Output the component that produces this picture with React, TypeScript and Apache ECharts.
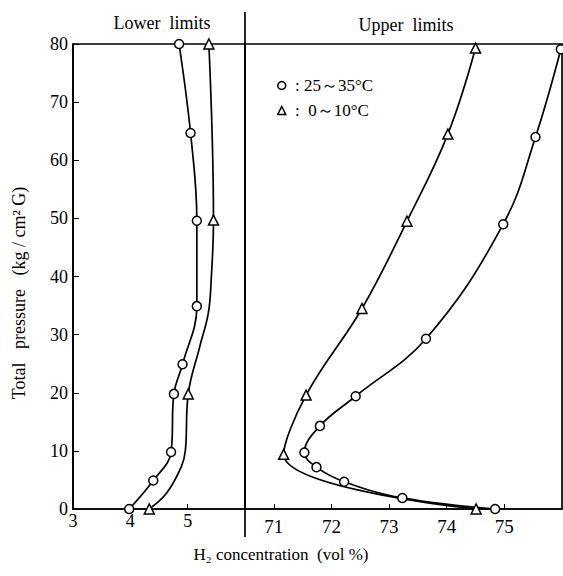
import React, { useEffect, useRef } from "react";
import * as echarts from "echarts";

// measured points (marked)
const lowerWarm: [number, number][] = [
  [3.98, 0], [4.4, 4.9], [4.71, 9.8], [4.76, 19.8], [4.91, 24.9],
  [5.16, 34.9], [5.16, 49.6], [5.05, 64.7], [4.85, 80],
];
const lowerCold: [number, number][] = [
  [4.33, 0], [5.01, 19.8], [5.45, 49.7], [5.37, 80],
];
const lowerColdTrace: [number, number][] = [
  [4.63, 2.7], [4.89, 7.3], [4.96, 10.1], [5.21, 27.9], [5.36, 33.7], [5.41, 39.4],
];
const upperWarm: [number, number][] = [
  [74.84, 0], [73.23, 1.9], [72.22, 4.7], [71.74, 7.2], [71.53, 9.7],
  [71.8, 14.3], [72.42, 19.4], [73.64, 29.3], [74.98, 49], [75.54, 64], [75.98, 79.1],
];
const upperCold: [number, number][] = [
  [74.51, 0], [71.17, 9.4], [71.56, 19.6], [72.53, 34.5], [73.31, 49.5],
  [74.02, 64.5], [74.5, 79.3],
];
const lowerTicks = [3, 4, 5];
const upperTicks = [71, 72, 73, 74, 75];
const warmName = "25～35°C";
const coldName = "0～10°C";

const FONT = "'Liberation Serif', 'DejaVu Serif', serif";

export default function App() {
  const ref = useRef<HTMLDivElement>(null);
  useEffect(() => {
    if (!ref.current) return;
    const chart = echarts.init(ref.current, undefined, { renderer: "svg" });
    const lineStyle = { color: "#000", width: 1.7 };
    const mkSeries = (name: string, data: any[], idx: number, sym: string, size: number) => ({
      type: "line",
      name,
      data,
      xAxisIndex: idx,
      yAxisIndex: idx,
      smooth: 0.4,
      symbol: sym,
      symbolSize: size,
      showAllSymbol: true,
      lineStyle,
      itemStyle: { color: "#fff", borderColor: "#000", borderWidth: 1.5 },
      clip: false,
    });
    const coldLowerData = [
      ...lowerCold.map((p) => ({ value: p })),
      ...lowerColdTrace.map((p) => ({ value: p, symbol: "none" })),
    ].sort((a, b) => a.value[1] - b.value[1]);
    const commonY = {
      type: "value",
      min: 0,
      max: 80,
      interval: 10,
      splitLine: { show: false },
    };
    chart.setOption({
      animation: false,
      backgroundColor: "#fff",
      textStyle: { fontFamily: FONT, color: "#000" },
      grid: [
        { left: 73, top: 44, width: 172, height: 465, show: true, borderColor: "#000", borderWidth: 1.7, backgroundColor: "transparent" },
        { left: 245, top: 44, width: 317, height: 465, show: true, borderColor: "#000", borderWidth: 1.7, backgroundColor: "transparent" },
      ],
      xAxis: [
        {
          type: "value", gridIndex: 0, min: 3, max: 6,
          splitLine: { show: false },
          axisLine: { show: true, onZero: false, lineStyle: { color: "#000", width: 1.7 } },
          axisTick: { show: true, inside: true, length: 5, customValues: lowerTicks, lineStyle: { color: "#000" } },
          axisLabel: { customValues: lowerTicks, fontSize: 18, color: "#000", fontFamily: FONT, margin: 3 },
        },
        {
          type: "value", gridIndex: 1, min: 70.5, max: 76,
          splitLine: { show: false },
          axisLine: { show: true, onZero: false, lineStyle: { color: "#000", width: 1.7 } },
          axisTick: { show: true, inside: true, length: 5, customValues: upperTicks, lineStyle: { color: "#000" } },
          axisLabel: { customValues: upperTicks, fontSize: 19, color: "#000", fontFamily: FONT, margin: 8 },
        },
      ],
      yAxis: [
        {
          ...commonY, gridIndex: 0,
          axisLine: { show: true, onZero: false, lineStyle: { color: "#000", width: 1.7 } },
          axisTick: { show: true, inside: true, length: 6, lineStyle: { color: "#000" } },
          axisLabel: { fontSize: 18, color: "#000", fontFamily: FONT, margin: 5 },
        },
        {
          ...commonY, gridIndex: 1,
          axisLine: { show: false },
          axisTick: { show: false },
          axisLabel: { show: false },
        },
      ],
      legend: {
        left: 272,
        top: 72,
        orient: "vertical",
        itemGap: 8,
        itemWidth: 8,
        itemHeight: 8,
        data: [
          { name: warmName, icon: "circle" },
          { name: coldName, icon: "triangle" },
        ],
        itemStyle: { color: "#fff", borderColor: "#000", borderWidth: 1.5 },
        formatter: (n: string) => (n === warmName ? " : " + n : " :  " + n),
        textStyle: { fontSize: 17, color: "#000", fontFamily: FONT },
      },
      graphic: [
        { type: "line", shape: { x1: 245, y1: 12, x2: 245, y2: 537 }, style: { stroke: "#000", lineWidth: 1.7 } },
        { type: "text", x: 162, y: 23, style: { text: "Lower  limits", fontSize: 18, fontFamily: FONT, fill: "#000", align: "center", verticalAlign: "middle" } },
        { type: "text", x: 406, y: 25, style: { text: "Upper  limits", fontSize: 18, fontFamily: FONT, fill: "#000", align: "center", verticalAlign: "middle" } },
        { type: "text", x: 281, y: 554, style: { text: "H₂ concentration  (vol %)", fontSize: 17, fontFamily: FONT, fill: "#000", align: "center", verticalAlign: "middle" } },
        { type: "text", x: 19, y: 293, rotation: Math.PI / 2, style: { text: "Total   pressure   (kg / cm² G)", fontSize: 18, fontFamily: FONT, fill: "#000", align: "center", verticalAlign: "middle" } },
      ],
      series: [
        mkSeries(warmName, lowerWarm, 0, "circle", 9),
        mkSeries(coldName, coldLowerData, 0, "triangle", 10),
        mkSeries(warmName, upperWarm, 1, "circle", 9),
        mkSeries(coldName, upperCold, 1, "triangle", 10),
      ],
    });
    return () => chart.dispose();
  }, []);
  return <div ref={ref} style={{ width: 563, height: 576, position: "absolute", left: 0, top: 0 }} />;
}
